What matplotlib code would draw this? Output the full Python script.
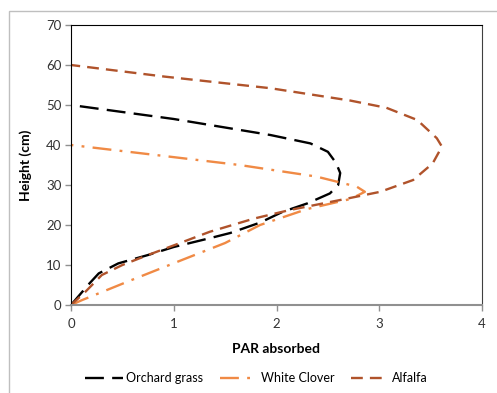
import matplotlib
matplotlib.use("Agg")
from matplotlib import pyplot as plt
from matplotlib.patches import Rectangle

plt.rcParams["font.family"] = ["Lato", "DejaVu Sans"]

# values (PAR absorbed, height in cm)
orchard_par = [0, 0.18, 0.27, 0.46, 0.75, 1.0, 1.35, 1.55, 1.84, 2.06, 2.30, 2.52,
               2.60, 2.62, 2.58, 2.50, 2.33, 1.94, 1.0, 0]
orchard_h = [0, 5.4, 7.9, 10.4, 12.5, 14.5, 16.7, 18.0, 20.6, 23.3, 25.4, 27.9,
             30.0, 33.0, 35.5, 38.3, 40.4, 42.5, 46.5, 50]

clover_par = [0, 0.11, 0.59, 1.08, 1.50, 1.84, 2.30, 2.72, 2.86, 2.78, 2.39, 1.64,
              0.89, 0]
clover_h = [0, 1.25, 6.25, 11.25, 15.5, 20.0, 24.0, 26.5, 28.3, 29.6, 32.1, 35.0,
            37.3, 40]

alfalfa_par = [0, 0.14, 0.30, 0.50, 0.75, 1.01, 1.35, 1.78, 2.13, 2.62, 3.01, 3.33,
               3.52, 3.61, 3.56, 3.37, 3.07, 2.72, 1.94, 0.91, 0]
alfalfa_h = [0, 3.3, 7.5, 10.0, 12.5, 15.0, 18.3, 21.6, 23.75, 26.25, 28.3, 31.25,
             35.4, 39.6, 41.7, 46.25, 49.3, 51.1, 54.2, 57.1, 60]

fig = plt.figure(figsize=(4.97, 3.93), dpi=100)
# chart area border
fig.patches.append(Rectangle((9 / 497, -0.1), 1.2, 0.1 + 1 - 11 / 393,
                             transform=fig.transFigure, fill=False,
                             edgecolor="#BFBFBF", linewidth=1.0))

ax = fig.add_axes([71 / 497, 1 - 305 / 393, 411 / 497, 280 / 393])

ax.plot(orchard_par, orchard_h, color="black", lw=1.7,
        dashes=(8, 3.5), label="Orchard grass")
ax.plot(clover_par, clover_h, color="#F08A45", lw=1.7,
        dashes=(8, 3.5, 1.2, 3.5), label="White Clover")
ax.plot(alfalfa_par, alfalfa_h, color="#B0532B", lw=1.7,
        dashes=(5, 3), label="Alfalfa")

ax.set_xlim(0, 4)
ax.set_ylim(0, 70)
ax.set_xticks([0, 1, 2, 3, 4])
ax.set_yticks(range(0, 71, 10))

for side in ["top", "left"]:
    ax.spines[side].set_color("black")
ax.spines["right"].set_color("#404040")
ax.spines["bottom"].set_color("#909090")
ax.spines["bottom"].set_linewidth(1.5)
ax.tick_params(axis="both", labelsize=9.5, colors="#909090", labelcolor="#333333",
               length=4, width=1)
ax.tick_params(axis="x", pad=5)
ax.tick_params(axis="y", pad=3)

ax.set_xlabel("PAR absorbed", fontsize=10, fontweight="bold", labelpad=10)
ax.set_ylabel("Height (cm)", fontsize=10, fontweight="bold", labelpad=10)

fig.legend(loc="center", bbox_to_anchor=(0.516, 1 - 378 / 393), ncol=3,
           frameon=False, fontsize=9, handlelength=3, columnspacing=1.3,
           handletextpad=0.3)

fig.savefig("out.png", dpi=100)
